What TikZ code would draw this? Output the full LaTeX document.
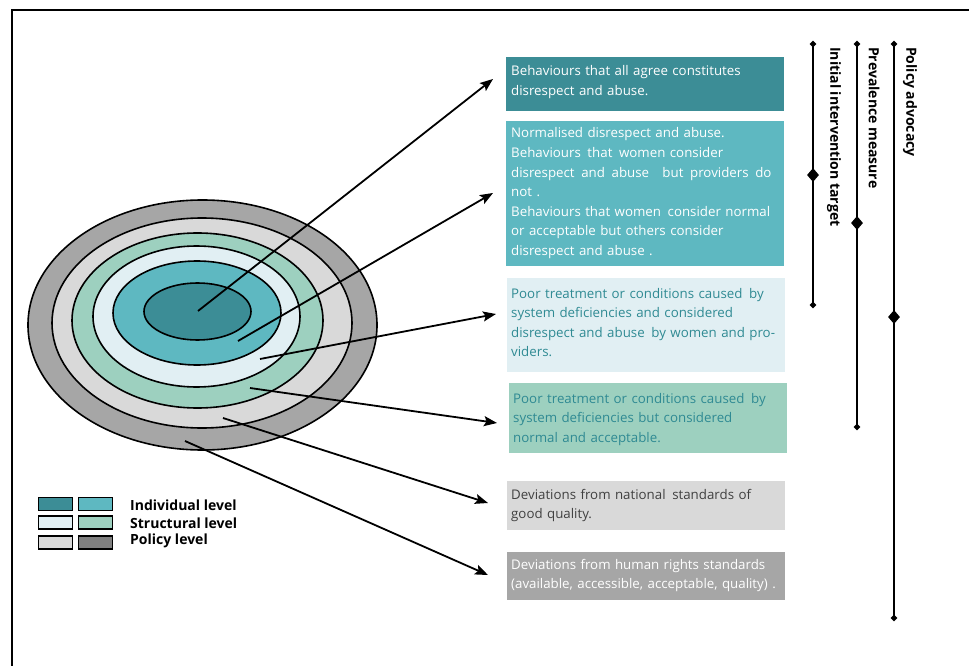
\documentclass[tikz,border=0pt]{standalone}
\usepackage{fontspec}
\setmainfont{Open Sans}
\usetikzlibrary{arrows.meta,shapes.geometric}
\definecolor{cA}{HTML}{3C8D96}
\definecolor{cB}{HTML}{5EB8C1}
\definecolor{cC}{HTML}{E1EFF3}
\definecolor{cD}{HTML}{9DD0BF}
\definecolor{cE}{HTML}{D9D9D9}
\definecolor{cF}{HTML}{A6A6A6}
\definecolor{cG}{HTML}{808080}
\definecolor{tealtxt}{HTML}{2F8A93}
\definecolor{graytxt}{HTML}{404040}
\tikzset{
  ring/.style={ellipse, draw, line width=1.6pt, inner sep=0pt},
  arr/.style={line width=1.8pt, -{Stealth[length=13pt,width=10pt,inset=2.5pt]}},
  boxr/.style={rectangle, inner sep=0pt, anchor=north west, draw=none},
  btxt/.style={inner sep=0pt, anchor=base west, text width=285pt, align=left,
    font=\fontsize{13.3}{19.6}\selectfont},
  vline/.style={line width=2pt},
  dsmall/.style={diamond, fill=black, inner sep=0pt, minimum width=7pt, minimum height=7pt},
  dbig/.style={diamond, fill=black, inner sep=0pt, minimum width=12pt, minimum height=14pt},
  vlab/.style={rotate=-90, anchor=west, inner sep=0pt, font=\fontsize{14}{16}\selectfont\bfseries},
  leg/.style={rectangle, draw, line width=1.8pt, minimum width=34pt, minimum height=13pt, inner sep=0pt},
  legt/.style={anchor=west, inner sep=0pt, font=\fontsize{14}{16}\selectfont\bfseries}
}
\begin{document}
\begin{tikzpicture}[x=1pt,y=-1pt]
\useasboundingbox (0,0) rectangle (969,666);
% frame
\coordinate (fa) at (12,680);
\coordinate (fb) at (12,10);
\coordinate (fc) at (990,10);
\draw[line width=2pt] (fa) -- (fb) -- (fc);

% ellipses
\node[ring, fill=cF, minimum width=349pt, minimum height=250pt] (e6) at (202.5,325) {};
\node[ring, fill=cE, minimum width=300pt, minimum height=210pt] (e5) at (202,323) {};
\node[ring, fill=cD, minimum width=251pt, minimum height=175pt] (e4) at (197.5,320.5) {};
\node[ring, fill=cC, minimum width=207pt, minimum height=141pt] (e3) at (196.5,316.5) {};
\node[ring, fill=cB, minimum width=168pt, minimum height=104pt] (e2) at (197,313) {};
\node[ring, fill=cA, minimum width=107pt, minimum height=57pt] (e1) at (197.5,311.5) {};

% boxes
\node[boxr, fill=cA, minimum width=278pt, minimum height=54pt] (b1) at (506,57) {};
\node[boxr, fill=cB, minimum width=278pt, minimum height=145pt] (b2) at (506,121) {};
\node[boxr, fill=cC, minimum width=278pt, minimum height=94pt] (b3) at (507,278) {};
\node[boxr, fill=cD, minimum width=278pt, minimum height=70pt] (b4) at (509,383) {};
\node[boxr, fill=cE, minimum width=278pt, minimum height=49pt] (b5) at (507,481) {};
\node[boxr, fill=cF, minimum width=278pt, minimum height=48pt] (b6) at (507,552) {};

\node[btxt, text=white] (t1) at (511,76) {Behaviours that all agree constitutes\\ disrespect and abuse.};
\node[btxt, text=white] (t2) at (511,138) {Normalised disrespect and abuse.\\ Behaviours\enspace that\enspace women consider\\ disrespect\enspace and\enspace abuse\quad but\enspace providers\enspace do\\ not .\\ Behaviours that women\enspace consider normal\\ or acceptable but others consider\\ disrespect and abuse .};
\node[btxt, text=tealtxt] (t3) at (511,298) {Poor treatment or conditions caused\enspace by\\ system deficiencies and considered\\ disrespect and abuse\enspace by women and pro-\\ viders.};
\node[btxt, text=tealtxt] (t4) at (513,403) {Poor treatment or conditions caused\enspace by\\ system deficiencies but considered\\ normal and acceptable.};
\node[btxt, text=graytxt] (t5) at (511,499) {Deviations from national\enspace standards of\\ good quality.};
\node[btxt, text=white] (t6) at (511,569) {Deviations from human rights standards\\ (available, accessible, acceptable, quality) .};

% arrows
\coordinate (s1) at (198,311); \coordinate (p1) at (493,79);
\coordinate (s2) at (238,341); \coordinate (p2) at (493,193);
\coordinate (s3) at (260,359); \coordinate (p3) at (496,314);
\coordinate (s4) at (250,388); \coordinate (p4) at (497,423);
\coordinate (s5) at (223,418); \coordinate (p5) at (488,503);
\coordinate (s6) at (185,441); \coordinate (p6) at (488,575);
\draw[arr] (s1) -- (p1);
\draw[arr] (s2) -- (p2);
\draw[arr] (s3) -- (p3);
\draw[arr] (s4) -- (p4);
\draw[arr] (s5) -- (p5);
\draw[arr] (s6) -- (p6);

% vertical range lines
\node[dsmall] (ia) at (813,44) {};
\node[dbig]   (ib) at (813,175) {};
\node[dsmall] (ic) at (813,305) {};
\draw[vline] (ia.center) -- (ic.center);
\node[vlab] (il) at (834,47) {Initial intervention target};

\node[dsmall] (pa) at (857,44) {};
\node[dbig]   (pb) at (857,223) {};
\node[dsmall] (pc) at (857,427) {};
\draw[vline] (pa.center) -- (pc.center);
\node[vlab] (pl) at (874,47) {Prevalence measure};

\node[dsmall] (qa) at (894,44) {};
\node[dbig]   (qb) at (894,317) {};
\node[dsmall] (qc) at (894,618) {};
\draw[vline] (qa.center) -- (qc.center);
\node[vlab] (ql) at (910,47) {Policy advocacy};

% legend
\node[leg, fill=cA] (l1) at (55.5,504) {};
\node[leg, fill=cB] (l2) at (95.5,504) {};
\node[leg, fill=cC] (l3) at (55.5,522.5) {};
\node[leg, fill=cD] (l4) at (95.5,522.5) {};
\node[leg, fill=cE] (l5) at (55.5,542.5) {};
\node[leg, fill=cG] (l6) at (95.5,542.5) {};
\node[legt] (lt1) at (130,505) {Individual level};
\node[legt] (lt2) at (130,523) {Structural level};
\node[legt] (lt3) at (130,541) {Policy level};
\end{tikzpicture}
\end{document}
